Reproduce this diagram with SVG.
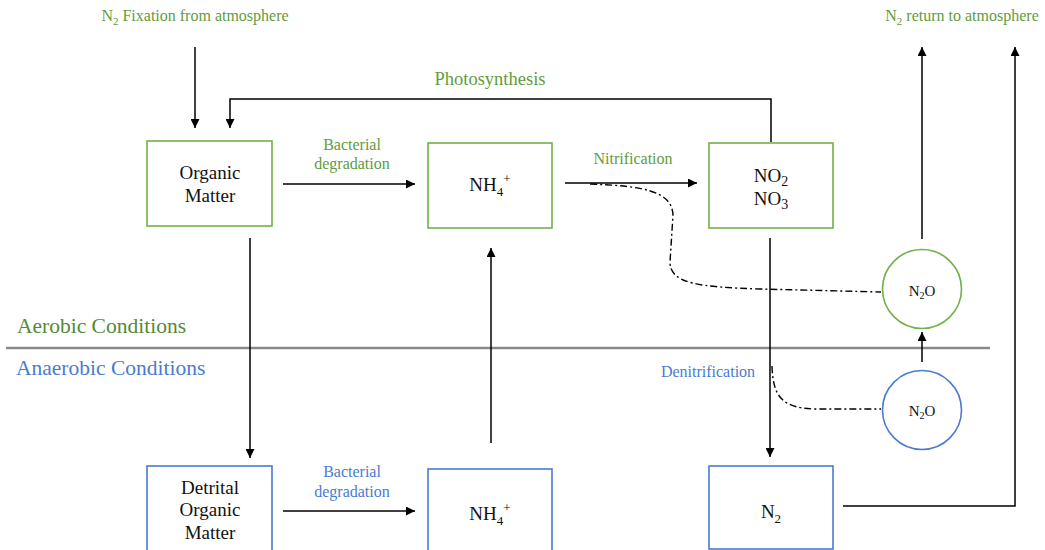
<svg xmlns="http://www.w3.org/2000/svg" width="1045" height="550" viewBox="0 0 1045 550">
<style>
text{font-family:'Liberation Serif','Times New Roman',Times,serif;fill:#111;text-anchor:middle}
.n{font-size:19px}
.s{font-size:15px}
.l{font-size:16px}
.g{fill:#5f9c40}
.b{fill:#4a7bd0}
.gb{fill:none;stroke:#72b04b;stroke-width:1.6}
.bb{fill:none;stroke:#4a7bd0;stroke-width:1.6}
.ca{fill:none;stroke:#000;stroke-width:1.5;marker-end:url(#ah)}
.dd{fill:none;stroke:#000;stroke-width:1.4;stroke-dasharray:7 3 2 3}
</style>
<defs>
<marker id="ah" markerUnits="userSpaceOnUse" markerWidth="10" markerHeight="9" refX="9" refY="4.5" orient="auto">
<path d="M0,0 L9,4.5 L0,9 z" fill="#000"/>
</marker>
</defs>
<rect width="1045" height="550" fill="#fff"/>

<g id="labels" font-family="Liberation Serif, serif">
<text class="l g" x="195" y="21">N<tspan font-size="11" dy="4">2</tspan><tspan dy="-4"> Fixation from atmosphere</tspan></text>
<text class="l g" x="962" y="21">N<tspan font-size="11" dy="4">2</tspan><tspan dy="-4"> return to atmosphere</tspan></text>
<text class="g" x="490" y="85" font-size="18.5">Photosynthesis</text>
<text class="l g" x="352" y="150">Bacterial</text>
<text class="l g" x="352" y="169">degradation</text>
<text class="l g" x="633" y="164">Nitrification</text>
<text class="l b" x="352" y="477">Bacterial</text>
<text class="l b" x="352" y="497">degradation</text>
<text class="l b" x="708" y="377">Denitrification</text>
<text x="17" y="333" font-size="21.5" style="text-anchor:start;fill:#548a35">Aerobic Conditions</text>
<text x="16" y="375" font-size="21.5" style="text-anchor:start;fill:#4a7bd0">Anaerobic Conditions</text>
</g>

<line x1="6" y1="348" x2="990" y2="348" stroke="#8a8a8a" stroke-width="2.5"/>

<g id="connectors">
<line class="ca" x1="195" y1="47" x2="195" y2="128"/>
<polyline class="ca" points="771,142 771,99 230,99 230,128"/>
<line class="ca" x1="283" y1="184" x2="415" y2="184"/>
<line class="ca" x1="565" y1="183" x2="697" y2="183"/>
<line class="ca" x1="250" y1="238" x2="250" y2="458"/>
<line class="ca" x1="770" y1="238" x2="770" y2="457"/>
<line class="ca" x1="491" y1="443" x2="491" y2="248"/>
<line class="ca" x1="283" y1="511" x2="415" y2="511"/>
<line class="ca" x1="922" y1="239" x2="922" y2="47"/>
<line class="ca" x1="922" y1="362" x2="922" y2="332"/>
<polyline class="ca" points="843,506 1015,506 1015,47"/>
<path class="dd" d="M590 184 C640 186 672 190 673 215 L670 262 C670 284 700 287 760 289 L881 292"/>
<path class="dd" d="M772 366 C773 398 783 408 815 409 L881 409"/>
</g>

<g id="organic">
<rect class="gb" x="147" y="141" width="125" height="85"/>
<text class="n" x="210" y="179">Organic</text>
<text class="n" x="210" y="202">Matter</text>
</g>
<g id="nh4-aerobic">
<rect class="gb" x="428" y="143" width="124" height="85"/>
<text class="n" x="490" y="191">NH<tspan font-size="13" dy="5">4</tspan><tspan font-size="13" dy="-13">+</tspan></text>
</g>
<g id="nox">
<rect class="gb" x="709" y="143" width="124" height="85"/>
<text class="n" x="771" y="182">NO<tspan font-size="14" dy="4">2</tspan></text>
<text class="n" x="771" y="205">NO<tspan font-size="14" dy="4">3</tspan></text>
</g>
<g id="n2o-aerobic">
<circle cx="922" cy="289" r="39.5" fill="none" stroke="#72b04b" stroke-width="1.6"/>
<text class="s" x="922" y="296">N<tspan font-size="10" dy="3">2</tspan><tspan dy="-3">O</tspan></text>
</g>
<g id="n2o-anaerobic">
<circle cx="922" cy="410" r="39.5" fill="none" stroke="#4a7bd0" stroke-width="1.6"/>
<text class="s" x="922" y="416">N<tspan font-size="10" dy="3">2</tspan><tspan dy="-3">O</tspan></text>
</g>
<g id="detrital">
<rect class="bb" x="147" y="466" width="125" height="86"/>
<text class="n" x="210" y="494">Detrital</text>
<text class="n" x="210" y="516">Organic</text>
<text class="n" x="210" y="539">Matter</text>
</g>
<g id="nh4-anaerobic">
<rect class="bb" x="428" y="469" width="124" height="86"/>
<text class="n" x="490" y="520">NH<tspan font-size="13" dy="5">4</tspan><tspan font-size="13" dy="-13">+</tspan></text>
</g>
<g id="n2">
<rect class="bb" x="709" y="466" width="124" height="83"/>
<text class="n" x="771" y="518">N<tspan font-size="13" dy="5">2</tspan></text>
</g>
</svg>
